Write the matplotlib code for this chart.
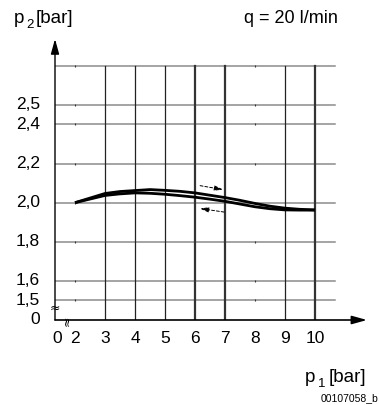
import matplotlib.pyplot as plt

W, H = 379, 405

# Werte
p1_up = [2, 3, 3.5, 4, 4.5, 5, 5.5, 6, 6.5, 7, 7.5, 8, 8.5, 9, 9.5, 10]
p2_up = [2.0, 2.047, 2.057, 2.062, 2.067, 2.063, 2.058, 2.05, 2.038, 2.026,
         2.012, 1.996, 1.982, 1.972, 1.966, 1.963]
p1_down = [2, 3, 3.5, 4, 4.5, 5, 5.5, 6, 6.5, 7, 7.5, 8, 8.5, 9, 9.5, 10]
p2_down = [2.0, 2.037, 2.045, 2.05, 2.048, 2.043, 2.036, 2.028, 2.018, 2.007,
           1.993, 1.979, 1.969, 1.963, 1.962, 1.962]

y_grid = [2.7, 2.5, 2.4, 2.2, 2.0, 1.8, 1.6, 1.5]
y_ticks = [2.5, 2.4, 2.2, 2.0, 1.8, 1.6, 1.5]
y_labels = ["2,5", "2,4", "2,2", "2,0", "1,8", "1,6", "1,5"]
x_grid_thin = [3, 4, 5, 9]
x_grid_bold = [6, 7, 10]
x_ticks = [2, 3, 4, 5, 6, 7, 8, 9, 10]

# Achsenbruch: 0 wird bei 1,4 (y) bzw. 1,333 (x) gezeichnet
Y0 = 1.4
X0 = 1.333

FONT = "Liberation Sans"
FS = 12.5

fig = plt.figure(figsize=(W / 100, H / 100), dpi=100)
ax = fig.add_axes([55 / W, (H - 320) / H, (367 - 55) / W, (320 - 39) / H])
ax.set_xlim(X0, 11.733)
ax.set_ylim(Y0, 2.837)
ax.axis("off")

for y in y_grid:
    ax.plot([X0, 10.67], [y, y], color="#8c8c8c", lw=1.1, zorder=1)
    ax.plot([2, 8], [y, y], ls="none", marker="|", ms=2, mew=0.8,
            color="#333333", zorder=2)
for x in x_grid_thin:
    ax.plot([x, x], [Y0, 2.7], color="#222222", lw=0.9, zorder=1)
for x in x_grid_bold:
    ax.plot([x, x], [Y0, 2.7], color="#333333", lw=1.6, zorder=1)

# Achsen mit Pfeilen
ax.annotate("", xy=(X0, 2.837), xytext=(X0, Y0),
            arrowprops=dict(arrowstyle="-|>,head_length=0.9,head_width=0.25",
                            color="black", lw=1.0, shrinkA=0, shrinkB=0))
ax.annotate("", xy=(11.733, Y0), xytext=(X0, Y0),
            arrowprops=dict(arrowstyle="-|>,head_length=0.9,head_width=0.25",
                            color="black", lw=1.2, shrinkA=0, shrinkB=0))

# Kennlinien
ax.plot(p1_up, p2_up, color="black", lw=2.0, solid_capstyle="butt", zorder=3)
ax.plot(p1_down, p2_down, color="black", lw=2.0, solid_capstyle="butt", zorder=3)

# Richtungspfeile
ax.annotate("", xy=(6.93, 2.067), xytext=(6.17, 2.087),
            arrowprops=dict(arrowstyle="-|>,head_length=0.5,head_width=0.15",
                            color="black", lw=0.7, ls=(0, (3, 2)),
                            shrinkA=0, shrinkB=0))
ax.annotate("", xy=(6.17, 1.97), xytext=(6.97, 1.952),
            arrowprops=dict(arrowstyle="-|>,head_length=0.5,head_width=0.15",
                            color="black", lw=0.7, ls=(0, (3, 2)),
                            shrinkA=0, shrinkB=0))

# Bruchzeichen
ax.text(X0, 1.46, "\u2248", fontsize=9, ha="center", va="center",
        family="DejaVu Sans", zorder=4)
ax.text(1.73, Y0 - 0.005, "\u2248", fontsize=9, ha="center", va="center",
        rotation=90, family="DejaVu Sans", zorder=4)

# Beschriftung der Achsen
for y, lab in zip(y_ticks, y_labels):
    ax.text(X0 - 0.5, y, lab, fontsize=FS, family=FONT, ha="right", va="center")
ax.text(X0 - 0.5, Y0, "0", fontsize=FS, family=FONT, ha="right", va="center")
ax.text(1.4, Y0 - 0.095, "0", fontsize=FS, family=FONT, ha="center", va="center")
for x in x_ticks:
    ax.text(x, Y0 - 0.095, str(x), fontsize=FS, family=FONT,
            ha="center", va="center")


def ftext(x, y, s, **kw):
    fig.text(x / W, 1 - y / H, s, family=FONT, va="baseline", **kw)


ftext(14, 23, "p", fontsize=13.5)
ftext(26, 28, "2", fontsize=9.5)
ftext(36, 23, "[bar]", fontsize=13.5)
ftext(338, 23, "q = 20 l/min", fontsize=13)
fig.texts[-1].set_ha("right")
ftext(305, 382, "p", fontsize=13.5)
ftext(318, 387, "1", fontsize=9.5)
ftext(329, 382, "[bar]", fontsize=13.5)
ftext(378, 401, "00107058_b", fontsize=7.5, ha="right")

fig.savefig("out.png", dpi=100)
